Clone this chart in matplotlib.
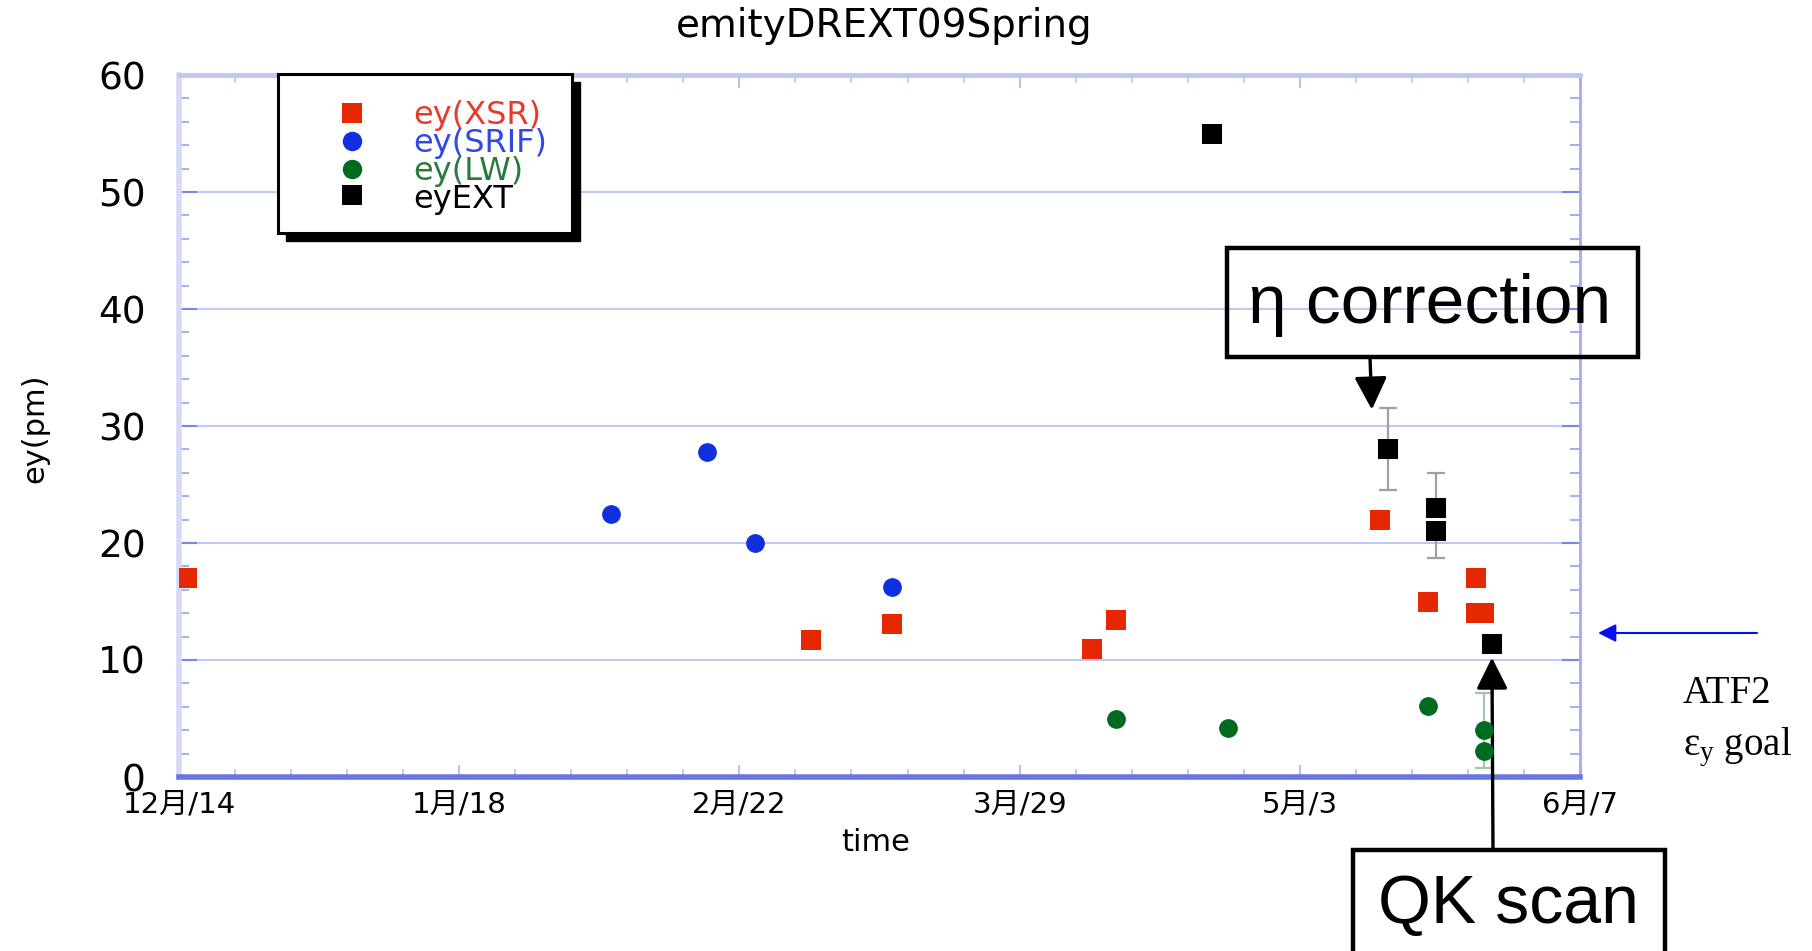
import matplotlib
matplotlib.use("Agg")
import matplotlib.pyplot as plt
import matplotlib.dates as mdates
import matplotlib.patches as mpatches
from matplotlib.ticker import FixedLocator, MultipleLocator, FuncFormatter
import pandas as pd

plt.rcParams["font.family"] = ["DejaVu Sans", "Noto Sans CJK JP"]
plt.rcParams["mathtext.fontset"] = "custom"
plt.rcParams["mathtext.rm"] = "Liberation Serif"

# ey(XSR)
xsr_date = ["2008-12-15", "2009-03-03", "2009-03-13", "2009-04-07", "2009-04-10",
            "2009-05-13", "2009-05-19", "2009-05-25", "2009-05-25", "2009-05-26"]
xsr_ey = [17.0, 11.7, 13.1, 10.9, 13.4, 22.0, 15.0, 17.0, 14.0, 14.0]

# ey(SRIF)
srif_date = ["2009-02-06", "2009-02-18", "2009-02-24", "2009-03-13"]
srif_ey = [22.5, 27.8, 20.0, 16.2]

# ey(LW)
lw_date = ["2009-04-10", "2009-04-24", "2009-05-19", "2009-05-26", "2009-05-26"]
lw_ey = [5.0, 4.2, 6.1, 4.0, 2.2]
lw_err = [0, 0, 0, 3.2, 0]

# eyEXT
ext_date = ["2009-04-22", "2009-05-14", "2009-05-20", "2009-05-20", "2009-05-27"]
ext_ey = [55.0, 28.0, 23.0, 21.0, 11.4]
ext_err_lo = [0, 3.5, 0, 2.3, 0]
ext_err_hi = [0, 3.5, 3.0, 0, 0]

x_start, x_end = "2008-12-14", "2009-06-07"

# 注記の矢印の先
eta_tip = ("2009-05-12", 31.4)
qk_tip = ("2009-05-27", 10.2)

RED, BLUE, GREEN = "#e62800", "#1030e0", "#006a20"

fig = plt.figure(figsize=(18.12, 9.51), dpi=100)
W, H = 1812, 951
ax = fig.add_axes([179 / W, 1 - 777 / H, 1401 / W, 702 / H])

d = lambda s: pd.to_datetime(s)

ax.errorbar(d(ext_date), ext_ey, yerr=[ext_err_lo, ext_err_hi], fmt="none",
            ecolor="#a0a0a0", elinewidth=1.6, capsize=6.5, capthick=1.6, zorder=3)
ax.errorbar(d(lw_date), lw_ey, yerr=lw_err, fmt="none",
            ecolor="#a8c4aa", elinewidth=1.6, capsize=6.5, capthick=1.6, zorder=3)

ax.plot(d(xsr_date), xsr_ey, "s", color=RED, ms=14.4, mew=0, zorder=4)
ax.plot(d(srif_date), srif_ey, "o", color=BLUE, ms=13.5, mew=0, zorder=4)
ax.plot(d(lw_date), lw_ey, "o", color=GREEN, ms=13.5, mew=0, zorder=4)
ax.plot(d(ext_date), ext_ey, "s", color="black", ms=14.4, mew=0, zorder=4)

ax.set_xlim(mdates.date2num(d(x_start)), mdates.date2num(d(x_end)))
ax.set_ylim(0, 60)

majors = pd.date_range(x_start, x_end, freq="35D")
minors = pd.date_range(x_start, x_end, freq="7D")
ax.xaxis.set_major_locator(FixedLocator(mdates.date2num(majors)))
ax.xaxis.set_minor_locator(FixedLocator(mdates.date2num(minors)))
ax.xaxis.set_major_formatter(FuncFormatter(
    lambda v, p: f"{mdates.num2date(v).month}月/{mdates.num2date(v).day}"))
ax.yaxis.set_major_locator(MultipleLocator(10))
ax.yaxis.set_minor_locator(MultipleLocator(2))

ax.tick_params(axis="y", which="major", direction="in", length=13, width=1.5,
               color="#7888e8", left=True, right=True, labelsize=27, pad=24)
ax.tick_params(axis="y", which="minor", direction="in", length=7, width=1.5,
               color="#a8b0f2", left=True, right=True)
ax.tick_params(axis="x", which="major", direction="in", length=9, width=1.5,
               color="#b8c0f4", top=True, bottom=True, labelsize=21, pad=10)
ax.tick_params(axis="x", which="minor", direction="in", length=6, width=1.5,
               color="#c4cbf6", top=True, bottom=True)

ax.yaxis.grid(True, color="#c0c8f4", lw=1.5)
ax.set_axisbelow(True)

ax.spines["left"].set(color="#d6daf8", lw=4)
ax.spines["top"].set(color="#c0c6f4", lw=3.5)
ax.spines["bottom"].set(color="#6a78e0", lw=4)
ax.spines["right"].set(color="#a4acf0", lw=2)

ax.set_xlabel("time", fontsize=22)
ax.xaxis.set_label_coords(0.4975, -0.072)
ax.set_ylabel("ey(pm)", fontsize=22)
ax.yaxis.set_label_coords(-0.0928, 0.497)
fig.text(884 / W, 1 - 26 / H, "emityDREXT09Spring", fontsize=28,
         ha="center", va="center")

# 凡例 (影付きの枠)
lx0, lx1, ly0, ly1 = 0.0707, 0.2805, 0.7749, 1.0014
ax.add_patch(mpatches.Rectangle((lx0 + 0.0057, ly0 - 0.0114), lx1 - lx0, ly1 - ly0,
                                transform=ax.transAxes, color="black",
                                clip_on=False, zorder=5))
ax.add_patch(mpatches.Rectangle((lx0, ly0), lx1 - lx0, ly1 - ly0,
                                transform=ax.transAxes, facecolor="white",
                                edgecolor="black", lw=2.2, clip_on=False, zorder=6))
entries = [("ey(XSR)", "s", RED, "#e83a28"),
           ("ey(SRIF)", "o", BLUE, "#3048e6"),
           ("ey(LW)", "o", GREEN, "#2a7a3c"),
           ("eyEXT", "s", "black", "black")]
mark_y = [0.9459, 0.906, 0.866, 0.829]
text_y = [0.943, 0.902, 0.863, 0.822]
for (lab, mk, mc, tc), my, ty in zip(entries, mark_y, text_y):
    ax.plot([0.1235], [my], mk, color=mc, ms=15 if mk == "s" else 14, mew=0,
            transform=ax.transAxes, clip_on=False, zorder=7)
    ax.text(0.167, ty, lab, color=tc, fontsize=23, ha="left", va="center",
            transform=ax.transAxes, zorder=7)

# η correction
fig.add_artist(mpatches.Rectangle((1227 / W, 1 - 357 / H), 411 / W, 109 / H,
                                  transform=fig.transFigure, fill=False,
                                  edgecolor="black", lw=3.2))
fig.text(1248 / W, 1 - 323 / H, "η correction", fontsize=50,
         family="Liberation Sans", ha="left", va="baseline")
ax.annotate("", xy=(mdates.date2num(d(eta_tip[0])), eta_tip[1]), xycoords="data",
            xytext=(1370, H - 357), textcoords="figure pixels",
            arrowprops=dict(arrowstyle="-|>,head_length=0.4,head_width=0.2",
                            mutation_scale=50, color="black", lw=2.4,
                            shrinkA=0, shrinkB=0), annotation_clip=False)

# QK scan
fig.add_artist(mpatches.Rectangle((1353 / W, -10 / H), 312 / W, (H - 850 + 10) / H,
                                  transform=fig.transFigure, fill=False,
                                  edgecolor="black", lw=3.2))
fig.text(1378 / W, 1 - 923 / H, "QK scan", fontsize=49,
         family="Liberation Sans", ha="left", va="baseline")
ax.annotate("", xy=(mdates.date2num(d(qk_tip[0])), qk_tip[1]), xycoords="data",
            xytext=(1493, H - 850), textcoords="figure pixels",
            arrowprops=dict(arrowstyle="-|>,head_length=0.4,head_width=0.2",
                            mutation_scale=48, color="black", lw=2.4,
                            shrinkA=0, shrinkB=0), annotation_clip=False)

# ATF2 目標
ax.annotate("", xy=(1598, H - 633), xycoords="figure pixels",
            xytext=(1757, H - 633), textcoords="figure pixels",
            arrowprops=dict(arrowstyle="-|>,head_length=0.4,head_width=0.2",
                            mutation_scale=27, color="#0010f0", lw=1.5,
                            shrinkA=0, shrinkB=0), annotation_clip=False)
fig.text(1683 / W, 1 - 703 / H, "ATF2", fontsize=28, family="Liberation Serif",
         ha="left", va="baseline")
fig.text(1683 / W, 1 - 755 / H, r"$\mathrm{ε_y}$ goal", fontsize=28,
         family="Liberation Serif", ha="left", va="baseline")

fig.savefig("out.png", dpi=100)
